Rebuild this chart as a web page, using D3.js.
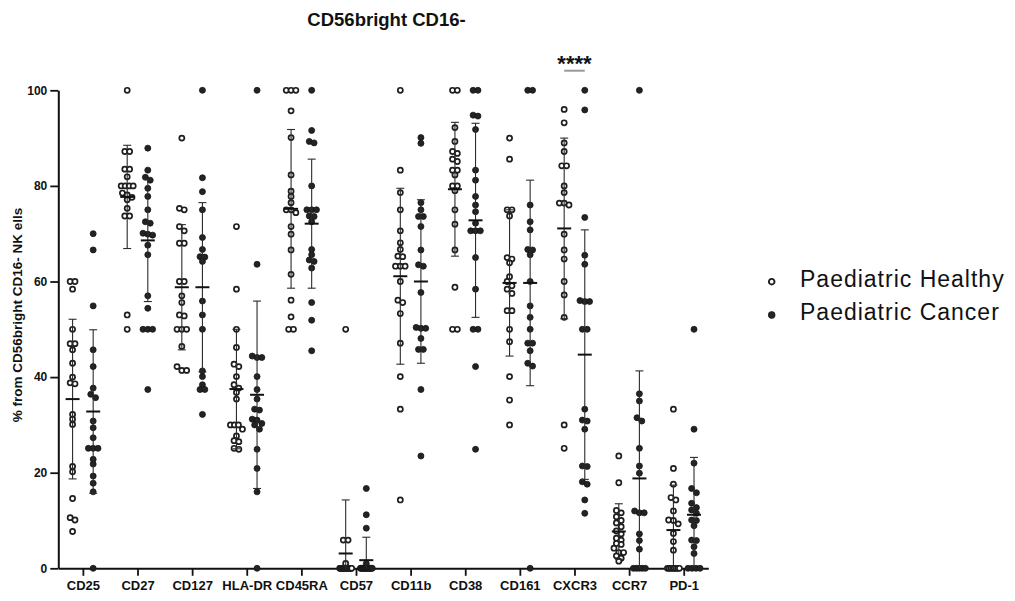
<!DOCTYPE html>
<html>
<head>
<meta charset="utf-8">
<script src="https://cdn.jsdelivr.net/npm/d3@7"></script>
<style>
  body { margin: 0; background: #fff; }
  svg text { font-family: "Liberation Sans", Arial, Helvetica, sans-serif; }
</style>
</head>
<body>
<svg id="chart" width="1015" height="601"></svg>
<script>
// Surface markers on CD56bright CD16- NK cells
const markers = ["CD25", "CD27", "CD127", "HLA-DR", "CD45RA", "CD57", "CD11b", "CD38", "CD161", "CXCR3", "CCR7", "PD-1"];

// Individual donors, % of parent population
const healthy = [
  [60, 60, 58.4, 50, 47, 47, 45.7, 42.9, 40, 38.8, 38.6, 32.2, 31.2, 30.1, 21.3, 20.2, 14.6, 10.6, 10.1, 7.7],
  [100, 87.2, 87.2, 83.5, 83.5, 81.9, 80, 80, 80, 80, 78.5, 78.1, 77.6, 77.1, 75.3, 73.7, 73.7, 53, 50],
  [90, 75.3, 75, 71.5, 70.6, 68, 68, 60, 60, 57, 55.6, 53, 52.8, 50, 50, 50, 46.4, 42.2, 41.4, 41.4],
  [71.5, 58.4, 50, 46.2, 42.7, 42.2, 40.1, 38.4, 37.7, 36.8, 35.4, 30, 30, 30, 29.1, 27.7, 26.7, 26.5, 25.1, 24.9],
  [100, 100, 100, 95.7, 90.1, 82.3, 78.9, 77.8, 76.5, 75, 75, 74.4, 71.5, 69.9, 66.6, 61.5, 56.1, 52.6, 50, 50],
  [50, 5.9, 5.9, 1, 0, 0, 0, 0, 0, 0, 0, 0, 0, 0, 0, 0, 0, 0, 0, 0],
  [100, 83.3, 78.6, 75, 70.6, 68.1, 66.7, 65.3, 65.2, 63.2, 63.2, 63.2, 60, 56.1, 55.6, 53.3, 47.1, 40.1, 33.3, 14.3],
  [100, 100, 92.2, 89.3, 87.2, 86.8, 85.6, 85.1, 83.3, 83.3, 82.3, 80, 80, 79, 75, 72, 66.6, 58.8, 50, 50],
  [90, 85.6, 75, 75, 73.7, 65, 64.7, 63.9, 61, 60, 59.1, 58.4, 57.5, 53.9, 53.9, 50, 47.4, 40.1, 35.2, 30],
  [96, 93.2, 89, 87.2, 84.2, 84.2, 80, 78.6, 76.4, 76.4, 76, 69.9, 66.6, 64.7, 60, 57.2, 52.5, 30, 25.1],
  [23.5, 17.9, 12.1, 11.6, 10.8, 10, 9.5, 8.7, 7.8, 7.2, 6.3, 5.9, 5.2, 5, 4.2, 3.3, 3.3, 2.6, 2.1, 1.5],
  [33.3, 20.9, 17.6, 14.8, 14.3, 12, 10.1, 10, 9.3, 7.3, 5.6, 3.8, 0, 0, 0, 0, 0, 0, 0, 0]
];
const cancer = [
  [70, 66.6, 54.9, 45.7, 42.2, 37.7, 36.4, 35.7, 30.8, 29.4, 27.3, 25.1, 25.1, 25.1, 22.8, 21.8, 19.3, 17.8, 16, 0],
  [87.9, 83.3, 81.8, 81.2, 79.5, 77.8, 75, 72.5, 72.2, 70.1, 69.9, 69.7, 67.6, 65.6, 57, 54.4, 50, 50, 50, 37.4],
  [100, 81.7, 78.8, 75, 69.2, 66.7, 65.2, 65.1, 64.2, 55.9, 53, 50, 41.3, 40.1, 38.4, 37.4, 37.4, 32.2],
  [100, 63.6, 44.4, 44.1, 44.1, 40.1, 37.4, 35.4, 33.3, 33.1, 31.2, 31, 30.3, 30, 29.1, 24.9, 20.9, 16, 0],
  [100, 91.6, 89.3, 89, 80, 75, 75, 75, 73.7, 73.6, 72.5, 66.7, 65.6, 64.5, 64.2, 62.8, 55.6, 51.9, 45.5],
  [16.7, 11.2, 8.4, 1, 0, 0, 0, 0, 0, 0, 0, 0, 0, 0, 0, 0, 0, 0, 0, 0],
  [90.1, 88.9, 76.5, 75, 73.6, 73.6, 71.5, 66.6, 63.5, 63.2, 57.7, 50.4, 50.2, 50.2, 48.1, 45.8, 45.8, 37.4, 23.5],
  [100, 100, 94.8, 94.6, 91.8, 83.3, 81.2, 77.8, 76, 74.6, 72.2, 70.6, 70.6, 70.6, 65, 58.4, 50, 50, 42.2, 24.9],
  [100, 100, 76, 72.5, 70.8, 66.7, 66.6, 65.6, 60, 54.9, 52.5, 50, 47.1, 47.1, 45.5, 42.9, 42.3, 0],
  [100, 95.9, 73.4, 65.5, 63.6, 56, 55.8, 55.8, 50, 50, 33.3, 31, 30.8, 29.1, 21.4, 21.3, 18.1, 17.6, 14.3, 11.5],
  [100, 36.5, 35, 31.5, 30.8, 25.1, 21.4, 19.9, 12, 11.6, 11.6, 7.2, 5.8, 4, 0, 0, 0, 0, 0],
  [50, 29.1, 22, 16.7, 15.8, 13.6, 12.7, 12.2, 11.5, 10.1, 10, 8.9, 5.9, 5.8, 4.5, 3.1, 0, 0, 0, 0]
];

// Group summaries: mean and standard deviation
const healthyMean = [35.4, 77.7, 58.8, 37.5, 75.2, 3.1, 61.1, 79.3, 59.7, 71.1, 7.7, 8.0];
const healthySD   = [16.7, 10.8, 13.1, 12.5, 16.6, 11.2, 18.4, 14.0, 15.3, 18.9, 5.8, 9.4];
const cancerMean  = [32.8, 68.6, 58.8, 36.3, 72.1, 1.7, 60.0, 72.8, 59.7, 44.7, 18.8, 11.2];
const cancerSD    = [17.1, 12.8, 17.7, 19.6, 13.5, 4.8, 17.1, 20.3, 21.5, 26.1, 22.5, 12.0];

const yTicks = [0, 20, 40, 60, 80, 100];
const seriesNames = ["Paediatric Healthy", "Paediatric Cancer"];
const significance = [{ marker: "CXCR3", label: "****" }];

const svg = d3.select("#chart");

const x = d3.scalePoint().domain(markers).range([58.3, 708.3]).padding(0.45);
const y = d3.scaleLinear().domain([0, 100]).range([568.3, 90.3]);
const offset = 10.3;

const series = [
  { name: seriesNames[0], data: healthy, mean: healthyMean, sd: healthySD, dx: -offset, open: true },
  { name: seriesNames[1], data: cancer,  mean: cancerMean,  sd: cancerSD,  dx: offset,  open: false }
];

// Beeswarm-style spreading of points sharing a similar value
function swarm(values, cx) {
  const rowGap = 4.4, spacing = 4.8, maxSpread = 12;
  const pts = values.map(v => ({ v, py: y(v) })).sort((a, b) => a.py - b.py);
  const rows = [];
  pts.forEach(p => {
    const last = rows[rows.length - 1];
    if (last && p.py - last[0].py < rowGap) last.push(p); else rows.push([p]);
  });
  rows.forEach(r => {
    const n = r.length;
    const step = n > 1 ? Math.min(spacing, maxSpread / (n - 1)) : 0;
    r.forEach((p, i) => { p.px = cx + (i - (n - 1) / 2) * step; });
  });
  return pts;
}

// Axes
const yAxis = svg.append("g")
  .attr("transform", "translate(58.3,0)")
  .call(d3.axisLeft(y).tickValues(yTicks).tickSize(8).tickSizeOuter(0).tickPadding(3));
yAxis.select(".domain").attr("stroke", "#111").attr("stroke-width", 2);
yAxis.selectAll(".tick line").attr("stroke", "#111").attr("stroke-width", 1.8);
yAxis.selectAll(".tick text")
  .attr("font-size", 12).attr("font-weight", "bold").attr("fill", "#111")
  .style("font-family", "'Liberation Sans', Arial, sans-serif");

const xAxis = svg.append("g")
  .attr("transform", "translate(0,568.3)")
  .call(d3.axisBottom(x).tickSize(7.5).tickSizeOuter(0).tickPadding(5));
xAxis.select(".domain").attr("stroke", "#111").attr("stroke-width", 2);
xAxis.selectAll(".tick line").attr("stroke", "#111").attr("stroke-width", 1.8);
xAxis.selectAll(".tick text")
  .attr("font-size", 13).attr("font-weight", "bold").attr("fill", "#111")
  .style("font-family", "'Liberation Sans', Arial, sans-serif");

// Points, then mean ± SD on top
series.forEach(s => {
  const g = svg.append("g");
  markers.forEach((m, i) => {
    const cx = x(m) + s.dx;
    const pts = swarm(s.data[i], cx);
    g.selectAll(null).data(pts).enter().append("circle")
      .attr("cx", d => d.px).attr("cy", d => d.py)
      .attr("r", s.open ? 2.55 : 3.0)
      .attr("fill", s.open ? "#fff" : "#232323")
      .attr("stroke", s.open ? "#1e1e1e" : "#151515")
      .attr("stroke-width", s.open ? 1.7 : 0.8);
  });
});

series.forEach(s => {
  const g = svg.append("g").attr("stroke", "#2b2b2b");
  markers.forEach((m, i) => {
    const cx = x(m) + s.dx;
    const hi = s.mean[i] + s.sd[i];
    const lo = Math.max(0, s.mean[i] - s.sd[i]);
    g.append("line").attr("x1", cx).attr("x2", cx).attr("y1", y(hi)).attr("y2", y(lo)).attr("stroke-width", 1.1);
    g.append("line").attr("x1", cx - 4).attr("x2", cx + 4).attr("y1", y(hi)).attr("y2", y(hi)).attr("stroke-width", 1.1);
    if (s.mean[i] - s.sd[i] > 0) {
      g.append("line").attr("x1", cx - 4).attr("x2", cx + 4).attr("y1", y(lo)).attr("y2", y(lo)).attr("stroke-width", 1.1);
    }
    g.append("line").attr("x1", cx - 7).attr("x2", cx + 7).attr("y1", y(s.mean[i])).attr("y2", y(s.mean[i]))
      .attr("stroke", "#111").attr("stroke-width", 2);
  });
});

// Significance annotation
significance.forEach(sig => {
  const cx = x(sig.marker);
  svg.append("line")
    .attr("x1", cx - offset).attr("x2", cx + offset)
    .attr("y1", 70.7).attr("y2", 70.7)
    .attr("stroke", "#999").attr("stroke-width", 2);
  svg.append("text")
    .attr("x", cx).attr("y", 71)
    .attr("text-anchor", "middle")
    .attr("font-size", 22).attr("font-weight", "bold").attr("fill", "#111")
    .text(sig.label);
});

// Title
svg.append("text")
  .attr("x", 386.5).attr("y", 26)
  .attr("text-anchor", "middle")
  .attr("font-size", 18.5).attr("font-weight", "bold").attr("fill", "#111")
  .text("CD56bright CD16-");

// Y axis title
svg.append("text")
  .attr("transform", "translate(16.7,315) rotate(-90)")
  .attr("text-anchor", "middle")
  .attr("dy", "0.36em")
  .attr("font-size", 13.5).attr("font-weight", "bold").attr("fill", "#111")
  .text("% from CD56bright CD16- NK ells");

// Legend
const legend = svg.append("g").attr("transform", "translate(771.7,281.7)");
series.forEach((s, i) => {
  const row = legend.append("g").attr("transform", `translate(0,${i * 33.3})`);
  row.append("circle")
    .attr("r", s.open ? 2.8 : 3.4)
    .attr("fill", s.open ? "#fff" : "#262626")
    .attr("stroke", s.open ? "#1e1e1e" : "#1a1a1a")
    .attr("stroke-width", s.open ? 1.9 : 0.8);
  row.append("text")
    .attr("x", 28.3).attr("y", 5.3)
    .attr("font-size", 23).attr("letter-spacing", "1px").attr("fill", "#111")
    .text(s.name);
});
</script>
</body>
</html>
